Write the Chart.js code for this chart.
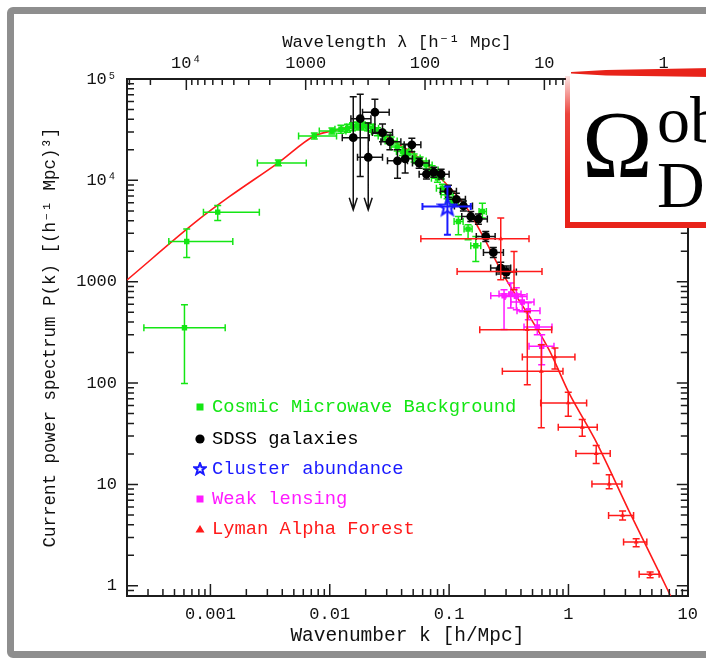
<!DOCTYPE html>
<html><head><meta charset="utf-8">
<script src="https://cdn.jsdelivr.net/npm/chart.js@4"></script>
<style>
html,body{margin:0;padding:0;background:#fff;width:706px;height:658px;overflow:hidden;}
#wrap{position:relative;width:706px;height:658px;overflow:hidden;}
#frame{position:absolute;left:7px;top:7px;width:740px;height:651px;box-sizing:border-box;border:7px solid #8e8e8e;border-radius:6px;z-index:0;}
#c{position:absolute;left:0;top:0;z-index:1;}
.row{position:absolute;left:193px;height:22px;line-height:22px;display:flex;align-items:center;white-space:nowrap;font-family:'Liberation Mono',monospace;font-size:18.8px;z-index:2;}
.row svg{width:14px;height:14px;margin-right:5px;flex:none;}
#boxBg{position:absolute;left:566px;top:73px;width:160px;height:152px;background:#fff;z-index:3;}
#boxLeft{position:absolute;left:565px;top:76px;width:5px;height:152px;background:linear-gradient(to bottom,rgba(232,35,26,0.12),rgba(232,35,26,0.85) 25%,#e8231a 70%);z-index:4;}
#boxTop{position:absolute;left:571px;top:67px;width:140px;height:11px;background:#e8231a;clip-path:polygon(0 5px,35px 3px,140px 1px,140px 10px,35px 8.5px,0 6.5px);z-index:4;}
#boxBottom{position:absolute;left:565px;top:222px;width:160px;height:6px;background:#e8231a;border-bottom-left-radius:3px;z-index:4;}
.bt{position:absolute;font-family:'Liberation Serif',serif;color:#000;line-height:1;white-space:nowrap;z-index:4;}
#om{left:582px;top:98px;font-size:95px;}
#sup{left:657px;top:87px;font-size:66px;}
#sub{left:657px;top:152px;font-size:66px;}
</style>
</head>
<body>
<div id="wrap">
  <div id="frame"></div>
  <canvas id="c" width="706" height="658"></canvas>
  <div class="row" style="top:396px;color:#14e614"><svg viewBox="0 0 14 14"><rect x="3.5" y="3.5" width="7" height="7" fill="#14e614"/></svg>Cosmic Microwave Background</div>
  <div class="row" style="top:427.5px;color:#000"><svg viewBox="0 0 14 14"><circle cx="7" cy="7" r="4.6" fill="#000"/></svg>SDSS galaxies</div>
  <div class="row" style="top:457.5px;color:#1a1aff"><svg viewBox="0 0 14 14"><polygon points="7,1.2 8.5,5.2 12.7,5.3 9.4,7.9 10.6,12 7,9.6 3.4,12 4.6,7.9 1.3,5.3 5.5,5.2" fill="none" stroke="#1a1aff" stroke-width="2"/></svg>Cluster abundance</div>
  <div class="row" style="top:488px;color:#ff1aff"><svg viewBox="0 0 14 14"><rect x="3.5" y="3.5" width="7" height="7" fill="#ff1aff"/></svg>Weak lensing</div>
  <div class="row" style="top:518px;color:#ff1a1a"><svg viewBox="0 0 14 14"><polygon points="7,3 11.5,10.5 2.5,10.5" fill="#ff1a1a"/></svg>Lyman Alpha Forest</div>
  <div id="boxBg"></div><div id="boxLeft"></div><div id="boxTop"></div><div id="boxBottom"></div>
  <span class="bt" id="om">Ω</span><span class="bt" id="sup">ob</span><span class="bt" id="sub">D</span>
</div>
<script>
// ---------- axis ranges & tick labels ----------
const xMin = 2e-4, xMax = 10, yMin = 0.794, yMax = 1e5;
const xTickVals = [0.001, 0.01, 0.1, 1, 10];
const xTickLabels = ['0.001', '0.01', '0.1', '1', '10'];
const yTickVals = [1, 10, 100, 1000, 1e4, 1e5];
const yTickLabels = ['1', '10', '100', '1000', '10⁴', '10⁵'];
const lambdaVals = [1e4, 1000, 100, 10, 1];
const lambdaLabels = ['10⁴', '1000', '100', '10', '1'];

// ---------- model curve ----------
const curveK = [2.0e-4, 7.9e-4, 1.44e-3, 3.7e-3, 7.4e-3, 0.0104, 0.0155, 0.0195, 0.0244, 0.0382, 0.0509, 0.09, 0.1379, 0.1963, 0.275, 0.6866, 1.01, 1.667, 3.354, 5.866, 7.3];
const curveP = [1040, 4070, 6900, 14900, 27400, 30700, 33500, 33600, 31450, 22400, 18300, 9800, 5520, 2700, 1260, 214, 80, 27.8, 4.95, 1.30, 0.76];

// ---------- Cosmic Microwave Background ----------
const cmbK   = [6.06e-4, 6.33e-4, 1.151e-3, 3.707e-3, 7.42e-3, 0.01043, 0.01241, 0.01409, 0.01552, 0.01708, 0.01881, 0.02072, 0.02282, 0.02512, 0.02858, 0.0327, 0.03672, 0.04066, 0.04539, 0.05094, 0.05718, 0.06419, 0.07206, 0.07983, 0.08789, 0.09623, 0.1059, 0.1196, 0.1442, 0.1673, 0.19];
const cmbP   = [352, 2495, 4861, 14870, 27440, 30730, 31950, 32690, 33880, 34430, 34430, 33880, 32690, 30250, 27440, 24500, 21380, 19220, 18240, 16660, 15560, 14210, 12690, 10510, 8380, 7197, 6182, 3928, 3306, 2263, 4927];
const cmbKlo = [2.77e-4, 4.48e-4, 8.74e-4, 2.474e-3, 5.48e-3, 8.17e-3, 0.01105, 0.01255, 0.01382, 0.01521, 0.01675, 0.01845, 0.02032, 0.02237, 0.02545, 0.02912, 0.0327, 0.03621, 0.04042, 0.04536, 0.05092, 0.05716, 0.06417, 0.07109, 0.07826, 0.08569, 0.0943, 0.1101, 0.1335, 0.1519, 0.1782];
const cmbKhi = [1.33e-3, 1.54e-3, 2.57e-3, 6.358e-3, 0.0114, 0.01366, 0.01394, 0.01582, 0.01743, 0.01918, 0.02112, 0.02327, 0.02563, 0.02821, 0.0321, 0.03672, 0.04124, 0.04566, 0.05097, 0.05721, 0.06421, 0.07209, 0.08092, 0.08965, 0.0987, 0.1081, 0.1189, 0.131, 0.1558, 0.1842, 0.2051];
const cmbPlo = [98.9, 1735, 4018, 13900, 25600, 28700, 29180, 29850, 30940, 31440, 31440, 30940, 29850, 27630, 25060, 22370, 19530, 17550, 16660, 15210, 14210, 12980, 11590, 9600, 7650, 6570, 5650, 2905, 2593, 1585, 4242];
const cmbPhi = [593, 3304, 5645, 15900, 29400, 32900, 34990, 35800, 37100, 37700, 37700, 37100, 35800, 33120, 30050, 26830, 23410, 21050, 19970, 18240, 17040, 15560, 13900, 11510, 9180, 7880, 6770, 4399, 3645, 2795, 5963];

// ---------- SDSS galaxies ----------
const sdssK   = [0.01573, 0.0180, 0.0210, 0.02389, 0.02766, 0.0319, 0.03693, 0.04284, 0.04873, 0.0561, 0.06457, 0.07447, 0.0857, 0.0987, 0.1151, 0.1318, 0.1519, 0.1759, 0.2028, 0.2348, 0.2708, 0.3017];
const sdssP   = [26400, 40600, 16900, 47000, 29600, 24100, 15600, 16300, 22400, 14800, 11500, 12040, 11500, 7830, 6500, 5600, 4400, 4150, 2800, 1944, 1365, 1246];
const sdssKlo = [0.01273, 0.01504, 0.01708, 0.01881, 0.02282, 0.02683, 0.03046, 0.03693, 0.04202, 0.0493, 0.0561, 0.0638, 0.0734, 0.0846, 0.0967, 0.1108, 0.1277, 0.148, 0.169, 0.194, 0.223, 0.249];
const sdssKhi = [0.02141, 0.02212, 0.02766, 0.03147, 0.03353, 0.03943, 0.04477, 0.0493, 0.05797, 0.068, 0.0725, 0.0869, 0.1, 0.1152, 0.137, 0.157, 0.181, 0.209, 0.243, 0.285, 0.328, 0.366];
const sdssPlo = [5120, 10900, 5120, 29200, 24000, 20000, 10500, 11800, 19200, 13200, 10300, 10750, 10300, 6830, 5670, 5000, 3930, 3700, 2500, 1735, 1190, 1090];
const sdssPhi = [66900, 70700, 36900, 63100, 36000, 28100, 20000, 22700, 26000, 16500, 12900, 13500, 12900, 8970, 7450, 6270, 4930, 4650, 3130, 2180, 1560, 1430];
const sdssUpperLimit = [true, false, true, false, false, false, false, false, false, false, false, false, false, false, false, false, false, false, false, false, false, false];

// ---------- Cluster abundance ----------
const clusterK = [0.0968], clusterP = [5520];
const clusterKlo = [0.0598], clusterKhi = [0.1519], clusterPlo = [2905], clusterPhi = [8687];

// ---------- Weak lensing ----------
const wlK   = [0.2886, 0.3284, 0.3659, 0.4106, 0.4609, 0.5482, 0.5967];
const wlP   = [728, 757, 717, 631, 518, 358, 230.5];
const wlKlo = [0.2234, 0.262, 0.2941, 0.3302, 0.3707, 0.4242, 0.4672];
const wlKhi = [0.3707, 0.4004, 0.4494, 0.5145, 0.5775, 0.7276, 0.7563];
const wlPlo = [337, 551, 530, 506, 422, 300, 152];
const wlPhi = [834, 971, 873, 745, 621, 422, 300];

// ---------- Lyman Alpha Forest ----------
const lyaK   = [0.2708, 0.3499, 0.452, 0.5922, 0.7709, 0.996, 1.305, 1.708, 2.194, 2.842, 3.693, 4.836];
const lyaP   = [2652, 1263, 336.7, 130.7, 181.2, 63.8, 36.7, 20.2, 10.1, 4.95, 2.70, 1.298];
const lyaKlo = [0.05797, 0.1167, 0.1806, 0.2793, 0.4106, 0.5854, 0.8215, 1.156, 1.573, 2.169, 2.896, 3.912];
const lyaKhi = [0.4672, 0.6002, 0.7236, 0.8995, 1.133, 1.42, 1.742, 2.238, 2.804, 3.513, 4.538, 5.752];
const lyaPlo = [1046, 834, 96.6, 36.2, 138, 47.1, 29.9, 16.1, 9.07, 4.45, 2.433, 1.205];
const lyaPhi = [4242, 1988, 510, 239.5, 222, 81.2, 43.7, 24.2, 12.5, 5.46, 2.917, 1.368];

// ---------- styling ----------
const axisColor = '#1c1c1c';
const cGreen = '#14e614', cBlack = '#000000', cBlue = '#1a1aff', cMag = '#ff1aff', cRed = '#ff1a1a';

const pts = (ks, ps) => ks.map((k, i) => ({x: k, y: ps[i]}));

function makeStar() {
  const c = document.createElement('canvas');
  c.width = 22; c.height = 22;
  const g = c.getContext('2d');
  g.strokeStyle = cBlue; g.lineWidth = 2.2; g.lineJoin = 'miter';
  g.beginPath();
  for (let i = 0; i < 10; i++) {
    const r = i % 2 ? 3.8 : 9;
    const a = -Math.PI / 2 + i * Math.PI / 5;
    const px = 11 + r * Math.cos(a), py = 11.8 + r * Math.sin(a);
    if (i) g.lineTo(px, py); else g.moveTo(px, py);
  }
  g.closePath(); g.stroke();
  return c;
}

const errorBarPlugin = {
  id: 'errorBars',
  beforeDatasetDraw(chart, args) {
    const ds = chart.data.datasets[args.index];
    const e = ds.errorBars;
    if (!e) return;
    const {ctx, chartArea: a, scales: {x, y}} = chart;
    ctx.save();
    ctx.beginPath(); ctx.rect(a.left, a.top, a.right - a.left, a.bottom - a.top); ctx.clip();
    ctx.strokeStyle = e.color; ctx.lineWidth = e.width || 1.5;
    const cap = 3.5;
    ctx.beginPath();
    ds.data.forEach((p, i) => {
      const px = x.getPixelForValue(p.x), py = y.getPixelForValue(p.y);
      const x1 = x.getPixelForValue(e.xlo[i]), x2 = x.getPixelForValue(e.xhi[i]);
      const y1 = y.getPixelForValue(e.yhi[i]), y2 = y.getPixelForValue(e.ylo[i]);
      ctx.moveTo(x1, py); ctx.lineTo(x2, py);
      ctx.moveTo(x1, py - cap); ctx.lineTo(x1, py + cap);
      ctx.moveTo(x2, py - cap); ctx.lineTo(x2, py + cap);
      ctx.moveTo(px, y1); ctx.lineTo(px, y2);
      ctx.moveTo(px - cap, y1); ctx.lineTo(px + cap, y1);
      if (e.limit && e.limit[i]) {
        ctx.moveTo(px - 4, y2 - 12); ctx.lineTo(px, y2); ctx.lineTo(px + 4, y2 - 12);
      } else {
        ctx.moveTo(px - cap, y2); ctx.lineTo(px + cap, y2);
      }
    });
    ctx.stroke();
    ctx.restore();
  }
};

const tickPlugin = {
  id: 'inwardTicks',
  afterDatasetsDraw(chart) {
    const {ctx, chartArea: a, scales} = chart;
    ctx.save();
    ctx.strokeStyle = axisColor; ctx.lineWidth = 1.5;
    ctx.beginPath();
    for (let e = -4; e <= 1; e++) {
      for (let m = 1; m <= 9; m++) {
        const v = m * Math.pow(10, e);
        if (v < xMin * 1.001 || v > xMax * 0.999) continue;
        const px = scales.x.getPixelForValue(v);
        const len = m === 1 ? 12 : 7;
        ctx.moveTo(px, a.bottom); ctx.lineTo(px, a.bottom - len);
      }
    }
    for (let e = 0; e <= 4; e++) {
      for (let m = 1; m <= 9; m++) {
        const lam = m * Math.pow(10, e);
        const k = 2 * Math.PI / lam;
        if (k < xMin * 1.001 || k > xMax * 0.999) continue;
        const px = scales.x2.getPixelForValue(k);
        const len = m === 1 ? 11 : 6;
        ctx.moveTo(px, a.top); ctx.lineTo(px, a.top + len);
      }
    }
    for (let e = -1; e <= 5; e++) {
      for (let m = 1; m <= 9; m++) {
        const v = m * Math.pow(10, e);
        if (v < yMin * 1.001 || v > yMax * 0.999) continue;
        const py = scales.y.getPixelForValue(v);
        const len = m === 1 ? 11 : 7;
        ctx.moveTo(a.left, py); ctx.lineTo(a.left + len, py);
        ctx.moveTo(a.right, py); ctx.lineTo(a.right - len, py);
      }
    }
    ctx.stroke();
    ctx.restore();
  }
};

Chart.defaults.font.family = "'Liberation Mono', monospace";
Chart.defaults.color = '#111';

const border = {display: true, color: axisColor, width: 2};
const noGrid = {display: false, drawTicks: false};

new Chart(document.getElementById('c'), {
  type: 'scatter',
  data: {
    datasets: [
      {label: 'Model', data: pts(curveK, curveP), showLine: true, borderColor: '#ff1a1a', borderWidth: 1.6,
       pointRadius: 0, cubicInterpolationMode: 'monotone', order: 6},
      {label: 'Cosmic Microwave Background', data: pts(cmbK, cmbP), pointStyle: 'rect', pointRadius: 3.8,
       backgroundColor: cGreen, borderColor: cGreen, borderWidth: 0, order: 5,
       errorBars: {color: cGreen, xlo: cmbKlo, xhi: cmbKhi, ylo: cmbPlo, yhi: cmbPhi}},
      {label: 'SDSS galaxies', data: pts(sdssK, sdssP), pointStyle: 'circle', pointRadius: 4.4,
       backgroundColor: cBlack, borderColor: cBlack, borderWidth: 0, order: 4,
       errorBars: {color: '#111', xlo: sdssKlo, xhi: sdssKhi, ylo: sdssPlo, yhi: sdssPhi, limit: sdssUpperLimit}},
      {label: 'Cluster abundance', data: pts(clusterK, clusterP), pointStyle: makeStar(), pointRadius: 9, order: 3,
       errorBars: {color: cBlue, width: 2, xlo: clusterKlo, xhi: clusterKhi, ylo: clusterPlo, yhi: clusterPhi}},
      {label: 'Weak lensing', data: pts(wlK, wlP), pointStyle: 'rect', pointRadius: 3.8,
       backgroundColor: cMag, borderColor: cMag, borderWidth: 0, order: 2,
       errorBars: {color: cMag, xlo: wlKlo, xhi: wlKhi, ylo: wlPlo, yhi: wlPhi}},
      {label: 'Lyman Alpha Forest', data: pts(lyaK, lyaP), pointStyle: 'triangle', pointRadius: 2.8,
       backgroundColor: cRed, borderColor: cRed, borderWidth: 0, order: 1,
       errorBars: {color: cRed, xlo: lyaKlo, xhi: lyaKhi, ylo: lyaPlo, yhi: lyaPhi}}
    ]
  },
  options: {
    responsive: false, animation: false, devicePixelRatio: 1,
    layout: {padding: 0},
    plugins: {legend: {display: false}, tooltip: {enabled: false}},
    scales: {
      x: {
        type: 'logarithmic', position: 'bottom', min: xMin, max: xMax,
        grid: noGrid, border,
        ticks: {autoSkip: false, maxRotation: 0, padding: 8, font: {size: 17}, color: '#111',
                callback: (v, i) => xTickLabels[i]},
        afterBuildTicks: s => { s.ticks = xTickVals.map(v => ({value: v})); },
        afterFit: s => { s.height = 62; },
        title: {display: true, text: 'Wavenumber k [h/Mpc]', font: {size: 19.5}, color: '#111', padding: {top: 0, bottom: 10}}
      },
      x2: {
        type: 'logarithmic', position: 'top', min: xMin, max: xMax,
        grid: noGrid, border,
        ticks: {autoSkip: false, maxRotation: 0, padding: 5, font: {size: 17}, color: '#111',
                callback: (v, i) => lambdaLabels[i]},
        afterBuildTicks: s => { s.ticks = lambdaVals.map(l => ({value: 2 * Math.PI / l})); },
        afterFit: s => { s.height = 79; },
        title: {display: true, text: 'Wavelength λ [h⁻¹ Mpc]\u00a0\u00a0', font: {size: 17.4}, color: '#111', padding: {top: 31.5, bottom: 0}}
      },
      y: {
        type: 'logarithmic', position: 'left', min: yMin, max: yMax,
        grid: noGrid, border,
        ticks: {autoSkip: false, padding: 10, font: {size: 17}, color: '#111',
                callback: (v, i) => yTickLabels[i]},
        afterBuildTicks: s => { s.ticks = yTickVals.map(v => ({value: v})); },
        afterFit: s => { s.width = 127; },
        title: {display: true, text: 'Current power spectrum P(k) [(h⁻¹ Mpc)³]', font: {size: 17.5}, color: '#111', padding: {top: 39.5, bottom: 0}}
      },
      y2: {
        type: 'logarithmic', position: 'right', min: yMin, max: yMax,
        grid: noGrid, border,
        ticks: {display: false},
        afterFit: s => { s.width = 18; }
      }
    }
  },
  plugins: [errorBarPlugin, tickPlugin]
});
</script>
</body></html>
